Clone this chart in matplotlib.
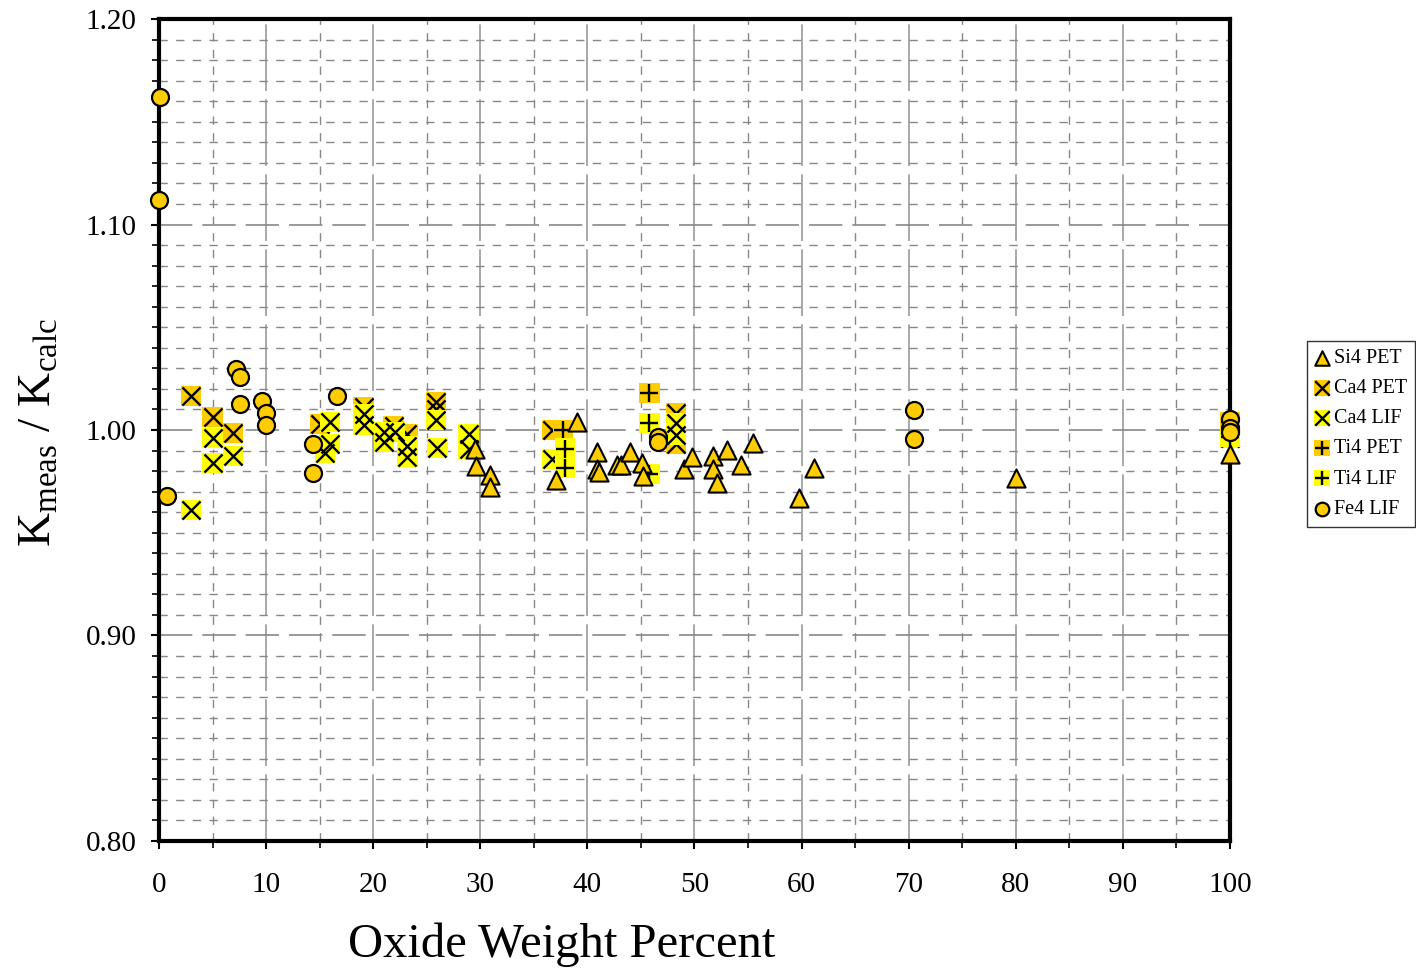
import matplotlib
matplotlib.use("Agg")
import matplotlib.pyplot as plt
from matplotlib.ticker import MultipleLocator
from matplotlib.legend_handler import HandlerTuple

plt.rcParams['font.family'] = ['Liberation Serif', 'DejaVu Serif']
plt.rcParams['mathtext.fontset'] = 'custom'
plt.rcParams['mathtext.rm'] = 'Liberation Serif'

GOLD = '#FFCC00'
YELLOW = '#FFFF00'

# Si4 PET
si_pet_x = [29.5, 29.6, 30.9, 30.9, 37.1, 39.0, 40.9, 40.9, 41.1, 42.8, 43.1, 44.0, 45.1, 45.2,
            49.0, 49.8, 51.7, 51.7, 52.1, 53.0, 54.3, 55.5, 59.8, 61.2, 80.0, 100.0]
si_pet_y = [0.991, 0.9825, 0.978, 0.9723, 0.9757, 1.004, 0.9893, 0.981, 0.9796, 0.983, 0.983, 0.9893, 0.984, 0.9775,
            0.981, 0.987, 0.9873, 0.981, 0.9742, 0.9903, 0.983, 0.9937, 0.9669, 0.9815, 0.9766, 0.9883]

# Ca4 PET
ca_pet_x = [3.0, 5.0, 6.9, 15.0, 19.1, 21.9, 23.2, 25.9, 25.9, 28.9, 36.7, 48.3, 48.3]
ca_pet_y = [1.0165, 1.0063, 0.9985, 1.003, 1.011, 1.002, 0.998, 1.0136, 1.010, 0.994, 1.000, 1.0083, 0.993]

# Ca4 LIF
ca_lif_x = [3.0, 5.0, 5.0, 6.9, 15.5, 16.0, 16.0, 19.1, 19.1, 21.0, 21.0, 22.0, 23.2, 23.2,
            25.9, 26.0, 28.9, 28.9, 36.7, 48.3, 48.3, 100.0]
ca_lif_y = [0.961, 0.996, 0.984, 0.9875, 0.989, 1.004, 0.993, 1.008, 1.0025, 0.999, 0.994, 0.999, 0.992, 0.987,
            1.0049, 0.9912, 0.998, 0.991, 0.986, 1.0034, 0.9976, 0.996]

# Ti4 PET
ti_pet_x = [37.7, 45.8, 100.0]
ti_pet_y = [1.000, 1.018, 1.004]

# Ti4 LIF
ti_lif_x = [37.9, 37.9, 45.8, 45.8, 100.0]
ti_lif_y = [0.991, 0.9815, 1.0034, 0.9786, 0.9966]

# Fe4 LIF
fe_lif_x = [0.1, 0.0, 0.7, 7.2, 7.6, 7.6, 9.6, 10.0, 10.0, 14.4, 14.4, 16.6,
            46.6, 46.6, 70.5, 70.5, 100.0, 100.0, 100.0]
fe_lif_y = [1.162, 1.112, 0.968, 1.0297, 1.026, 1.0127, 1.014, 1.0083, 1.0024, 0.993, 0.979, 1.0165,
            0.9966, 0.9942, 1.0097, 0.9956, 1.0054, 1.001, 0.999]

fig = plt.figure(figsize=(14.16, 9.71), dpi=100)
ax = fig.add_axes([0.1123, 0.1339, 0.7563, 0.8465])

# triangles
h_si = ax.scatter(si_pet_x, si_pet_y, marker='^', s=170, facecolor=GOLD, edgecolor='black',
                  linewidth=1.5, zorder=5, clip_on=False)


def boxed(x, y, bg, sym):
    b = ax.scatter(x, y, marker='s', s=210, facecolor=bg, edgecolor='none', zorder=4, clip_on=False)
    m = ax.scatter(x, y, marker=sym, s=170, color='black', linewidth=1.7, zorder=4, clip_on=False)
    return (b, m)


h_cap = boxed(ca_pet_x, ca_pet_y, GOLD, 'x')
h_cal = boxed(ca_lif_x, ca_lif_y, YELLOW, 'x')
h_tip = boxed(ti_pet_x, ti_pet_y, GOLD, '+')
h_til = boxed(ti_lif_x, ti_lif_y, YELLOW, '+')
h_fe = ax.scatter(fe_lif_x, fe_lif_y, marker='o', s=150, facecolor=GOLD, edgecolor='black',
                  linewidth=1.6, zorder=6, clip_on=False)

ax.set_xlim(0, 100)
ax.set_ylim(0.80, 1.20)
ax.xaxis.set_major_locator(MultipleLocator(10))
ax.xaxis.set_minor_locator(MultipleLocator(5))
ax.yaxis.set_major_locator(MultipleLocator(0.10))
ax.yaxis.set_minor_locator(MultipleLocator(0.01))
ax.set_yticklabels(['%.2f' % v for v in ax.get_yticks()])

ax.grid(which='major', axis='x', color='#999999', linestyle=(0, (40, 5)), linewidth=1.2)
ax.grid(which='minor', axis='x', color='#888888', linestyle=(0, (6, 6)), linewidth=1)
ax.grid(which='major', axis='y', color='#888888', linestyle=(0, (20, 6)), linewidth=1.2)
ax.grid(which='minor', axis='y', color='#888888', linestyle=(0, (6, 6)), linewidth=1)
ax.set_axisbelow(True)

for s in ax.spines.values():
    s.set_linewidth(3)
ax.tick_params(which='major', direction='out', length=6, width=1.5, labelsize=21)
ax.tick_params(axis='x', which='major', pad=16)
ax.tick_params(axis='y', which='major', pad=10)
ax.tick_params(which='minor', direction='out', length=5, width=1.2)

fig.text(0.397, 0.027, 'Oxide Weight Percent', fontsize=35, ha='center', va='center')
fig.text(0.028, 0.555, r'K$_{\rm meas}$ / K$_{\rm calc}$', fontsize=34, rotation=90,
         ha='center', va='center')

leg = fig.legend([h_si, h_cap, h_cal, h_tip, h_til, h_fe],
                 ['Si4 PET', 'Ca4 PET', 'Ca4 LIF', 'Ti4 PET', 'Ti4 LIF', 'Fe4 LIF'],
                 handler_map={tuple: HandlerTuple(ndivide=1, pad=0)},
                 loc='upper left', bbox_to_anchor=(0.923, 0.649), fontsize=14.5,
                 frameon=True, fancybox=False, edgecolor='black', handlelength=0.7,
                 handletextpad=0.25, borderpad=0.4, labelspacing=0.55, markerscale=0.8,
                 borderaxespad=0)
leg.get_frame().set_linewidth(1)

fig.savefig('out.png', dpi=100)
